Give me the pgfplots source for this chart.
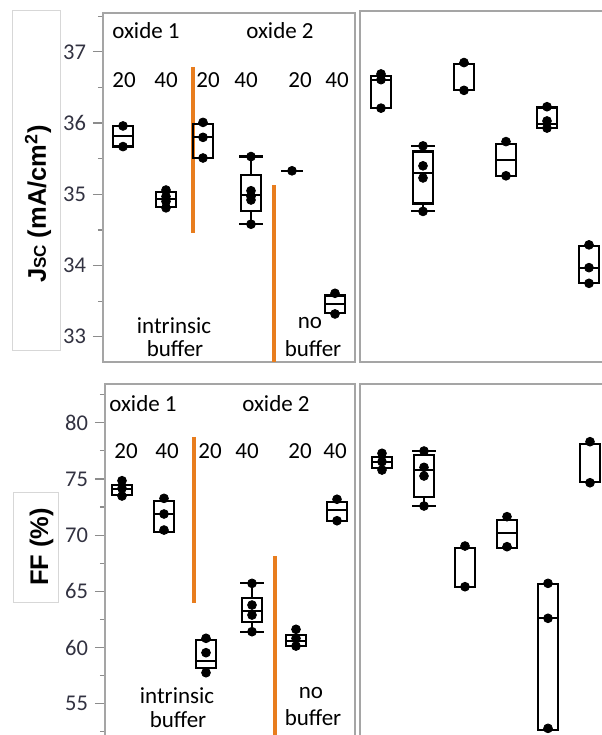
\documentclass[border=0pt]{standalone}
\usepackage{pgfplots}
\pgfplotsset{compat=1.18}
\usepackage{fontspec}
\setmainfont{Carlito}
\newfontfamily\labfont{Liberation Sans}
\definecolor{org}{RGB}{232,125,30}
\definecolor{frm}{RGB}{165,165,165}
\definecolor{tkl}{RGB}{50,50,65}
\definecolor{lbx}{RGB}{215,215,215}
\definecolor{tkc}{RGB}{140,140,140}
\pgfplotsset{
  panel/.style={scale only axis, anchor=north west,
    axis line style={draw=frm, line width=1pt},
    xtick=\empty, clip=false},
  ticked/.style={ytick pos=left, tick align=outside,
    major tick length=5pt, minor tick length=2.5pt,
    every tick/.style={draw=tkc, line width=0.6pt},
    yticklabel style={font=\fontsize{11.25}{11}\selectfont, text=tkl},
    /pgf/number format/assume math mode=true},
  noticks/.style={yticklabels={}, major tick length=0pt, minor tick length=0pt,
    every tick/.style={draw=none}},
  bp/.style={black, line width=1.1pt, solid, mark=none, line cap=rect, line join=miter},
  pts/.style={only marks, mark=*, mark size=2.2pt, black},
  ora/.style={org, line width=2pt, mark=none}
}
% box: #1 position, #2 lower whisker, #3 Q1, #4 median, #5 Q3, #6 upper whisker
\newcommand\BX[6]{%
 \pgfmathsetmacro\xl{#1-1}\pgfmathsetmacro\xr{#1+1}%
 \pgfmathsetmacro\cl{#1-1.1}\pgfmathsetmacro\cR{#1+1.1}%
 \edef\tmp{\noexpand\addplot[bp] coordinates {(\xl,#3) (\xr,#3) (\xr,#5) (\xl,#5) (\xl,#3)};
   \noexpand\addplot[bp] coordinates {(\xl,#4) (\xr,#4)};}\tmp
 \ifdim #2pt<#3pt
   \edef\tmp{\noexpand\addplot[bp] coordinates {(#1,#3) (#1,#2)};
     \noexpand\addplot[bp] coordinates {(\cl,#2) (\cR,#2)};}\tmp
 \fi
 \ifdim #6pt>#5pt
   \edef\tmp{\noexpand\addplot[bp] coordinates {(#1,#5) (#1,#6)};
     \noexpand\addplot[bp] coordinates {(\cl,#6) (\cR,#6)};}\tmp
 \fi}
\begin{document}
\begin{tikzpicture}
\useasboundingbox (0,0) rectangle (300.5pt,-367.5pt);
% ---------- top left: Jsc ----------
\begin{axis}[panel, ticked, at={(51.5pt,-6.5pt)}, width=126pt, height=174.5pt,
  xmin=10.3, xmax=35.5, ymin=32.645, ymax=37.546,
  ytick={33,34,35,36,37}, minor ytick={33.5,34.5,35.5,36.5,37.5}]
\addplot[ora] coordinates {(19.3,36.79) (19.3,34.46)};
\addplot[ora] coordinates {(27.4,35.13) (27.4,32.65)};
\BX{12.3}{35.67}{35.67}{35.82}{35.96}{35.96}
\BX{16.6}{34.82}{34.82}{34.93}{35.03}{35.03}
\BX{20.3}{35.51}{35.51}{35.80}{35.99}{35.99}
\BX{25.1}{34.58}{34.76}{34.99}{35.27}{35.53}
\BX{29.2}{35.33}{35.33}{35.33}{35.33}{35.33}
\BX{33.5}{33.33}{33.33}{33.46}{33.58}{33.58}
\addplot[pts] coordinates {(12.3,35.96) (12.3,35.67)
 (16.6,35.06) (16.6,34.97) (16.6,34.90) (16.6,34.81)
 (20.3,36.01) (20.3,35.80) (20.3,35.51)
 (25.1,35.53) (25.1,35.05) (25.1,34.97) (25.1,34.92) (25.1,34.58)
 (29.2,35.33)
 (33.5,33.61) (33.5,33.32)};
\end{axis}
% ---------- top right ----------
\begin{axis}[panel, noticks, at={(180pt,-5.5pt)}, width=122.5pt, height=175.5pt,
  xmin=36, xmax=60.5, ymin=32.645, ymax=37.574, ytick={33,34,35,36,37}]
\BX{38.1}{36.21}{36.21}{36.60}{36.66}{36.66}
\BX{42.3}{34.76}{34.87}{35.30}{35.60}{35.68}
\BX{46.4}{36.46}{36.46}{36.46}{36.83}{36.83}
\BX{50.6}{35.26}{35.26}{35.48}{35.71}{35.71}
\BX{54.7}{35.93}{35.93}{35.99}{36.22}{36.22}
\BX{58.9}{33.75}{33.75}{33.97}{34.27}{34.27}
\addplot[pts] coordinates {(38.1,36.69) (38.1,36.61) (38.1,36.21)
 (42.3,35.68) (42.3,35.40) (42.3,35.23) (42.3,34.76)
 (46.4,36.85) (46.4,36.46)
 (50.6,35.74) (50.6,35.26)
 (54.7,36.23) (54.7,36.03) (54.7,35.93)
 (58.9,34.29) (58.9,33.97) (58.9,33.75)};
\end{axis}
% ---------- bottom left: FF ----------
\begin{axis}[panel, ticked, at={(52.5pt,-192pt)}, width=125pt, height=176.5pt,
  xmin=10.5, xmax=35.5, ymin=52.04, ymax=83.443,
  ytick={55,60,65,70,75,80}, minor ytick={52.5,57.5,62.5,67.5,72.5,77.5,82.5}]
\addplot[ora] coordinates {(19.4,78.75) (19.4,63.93)};
\addplot[ora] coordinates {(27.5,68.14) (27.5,52.2)};
\BX{12.2}{73.57}{73.57}{74.07}{74.46}{74.46}
\BX{16.4}{70.30}{70.30}{71.88}{73.03}{73.03}
\BX{20.6}{58.15}{58.15}{58.83}{60.67}{60.67}
\BX{25.2}{61.41}{62.30}{63.27}{64.38}{65.71}
\BX{29.6}{60.13}{60.13}{60.60}{61.11}{61.11}
\BX{33.7}{71.28}{71.28}{72.23}{72.97}{72.97}
\addplot[pts] coordinates {(12.2,74.84) (12.2,74.16) (12.2,73.48)
 (16.4,73.27) (16.4,71.88) (16.4,70.45)
 (20.6,60.82) (20.6,59.54) (20.6,57.76)
 (25.2,65.71) (25.2,63.78) (25.2,62.89) (25.2,61.41)
 (29.6,61.62) (29.6,60.82) (29.6,60.13)
 (33.7,73.19) (33.7,71.28)};
\end{axis}
% ---------- bottom right ----------
\begin{axis}[panel, noticks, at={(180pt,-192pt)}, width=122.5pt, height=176.5pt,
  xmin=36, xmax=60.5, ymin=52.04, ymax=83.443, ytick={55,60,65,70,75,80}]
\BX{38.2}{75.94}{75.94}{76.53}{76.92}{76.92}
\BX{42.4}{72.59}{73.36}{75.79}{77.13}{77.48}
\BX{46.5}{65.36}{65.36}{65.36}{68.88}{68.88}
\BX{50.7}{68.82}{68.82}{70.16}{71.34}{71.34}
\BX{54.8}{52.66}{52.66}{62.60}{65.62}{65.62}
\BX{59.0}{74.75}{74.75}{78.10}{78.10}{78.10}
\addplot[pts] coordinates {(38.2,77.28) (38.2,76.53) (38.2,75.79)
 (42.4,77.48) (42.4,76.03) (42.4,75.26) (42.4,72.59)
 (46.5,69.03) (46.5,65.41)
 (50.7,71.64) (50.7,68.97)
 (54.8,65.71) (54.8,62.60) (54.8,52.81)
 (59.0,78.31) (59.0,74.66)};
\end{axis}
% ---------- text ----------
\begin{scope}[x=0.5pt, y=-0.5pt]
\draw[lbx, line width=0.5pt] (12,10) rectangle (60,350);
\draw[lbx, line width=0.5pt] (13,492) rectangle (58,602);
\node[rotate=90, anchor=base, inner sep=0pt, font=\labfont\bfseries\fontsize{12.75}{14}\selectfont] at (46,204)
  {J{\fontsize{8.5}{9}\selectfont SC} (mA/cm\textsuperscript{2})};
\node[rotate=90, anchor=base, inner sep=0pt, font=\labfont\bfseries\fontsize{12.75}{14}\selectfont] at (48,547) {FF (\%)};
\begin{scope}[every node/.style={anchor=base, inner sep=0pt, font=\fontsize{11.5}{12}\selectfont}]
\node at (146,38) {oxide 1};
\node at (280,38) {oxide 2};
\node at (124,87) {20}; \node at (166,87) {40}; \node at (208,87) {20};
\node at (246,87) {40}; \node at (300,87) {20}; \node at (337,87) {40};
\node at (174,333) {intrinsic}; \node at (175,356) {buffer};
\node at (310,328) {no}; \node at (313,356) {buffer};
\node at (143,411) {oxide 1};
\node at (276,411) {oxide 2};
\node at (126,458) {20}; \node at (167,458) {40}; \node at (210,458) {20};
\node at (247,458) {40}; \node at (300,458) {20}; \node at (335,458) {40};
\node at (177,703) {intrinsic}; \node at (178,727) {buffer};
\node at (311,698) {no}; \node at (313,725) {buffer};
\end{scope}
\end{scope}
\end{tikzpicture}
\end{document}
